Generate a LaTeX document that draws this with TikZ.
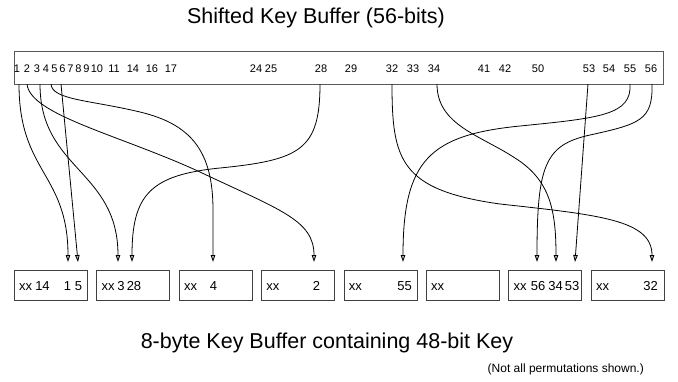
\documentclass[tikz,border=0pt]{standalone}
\usepackage{fontspec}
\setmainfont{Liberation Sans}
\usetikzlibrary{arrows.meta}
\begin{document}
\begin{tikzpicture}[x=1pt,y=-1pt,
  bitnum/.style={font=\fontsize{11}{12}\selectfont, inner sep=0pt, anchor=base},
  cell/.style={draw=black!75, line width=0.9pt, minimum width=73pt, minimum height=30pt,
               anchor=north west, inner sep=0pt},
  celltxt/.style={font=\fontsize{13}{14}\selectfont, inner sep=0pt, anchor=base},
  perm/.style={draw=black, line width=0.8pt,
               -{Triangle[length=7pt,width=4.5pt,fill=black!30]}},
  heading/.style={font=\fontsize{21.5}{24}\selectfont, inner sep=0pt},
]
\useasboundingbox (0,0) rectangle (678,381);

% 56-bit shifted key buffer
\node[heading] (title) at (316,18) {Shifted Key Buffer (56-bits)};
\node[draw=black!65, line width=1.4pt, anchor=north west, minimum width=649pt,
      minimum height=33pt, inner sep=0pt] (bar) at (14,51) {};
\foreach \n/\x in {1/17,2/27,3/37,4/46,5/54.5,6/62.5,7/70.5,8/78.5,9/86.5,10/97,11/114,14/133,16/152,17/171,
                   24/256,25/271,28/321,29/351,32/392,33/413,34/434,41/484,42/505,50/538,
                   53/589,54/609,55/630,56/651}
  \node[bitnum] (b\n) at (\x,72) {\n};

% 8-byte key buffer
\foreach \i in {1,...,8}{
  \node[cell] (k\i) at ({14+82.4*(\i-1)},270) {};
  \node[celltxt, anchor=base west] (x\i) at ({19+82.4*(\i-1)},290) {xx};
}
\node[celltxt] (c14) at (42.5,290) {14};
\node[celltxt] (c1)  at (67.5,290) {1};
\node[celltxt] (c5)  at (78.5,290) {5};
\node[celltxt] (c3)  at (121,290) {3};
\node[celltxt] (c28) at (134,290) {28};
\node[celltxt] (c4)  at (213.5,290) {4};
\node[celltxt] (c2)  at (316.5,290) {2};
\node[celltxt] (c55) at (404.5,290) {55};
\node[celltxt] (c56) at (538,290) {56};
\node[celltxt] (c34) at (555.5,290) {34};
\node[celltxt] (c53) at (572,290) {53};
\node[celltxt] (c32) at (650.5,290) {32};

% line ends at the bottom of the 56-bit buffer
\coordinate (s1)  at (19,84);
\coordinate (s2)  at (27,84);
\coordinate (s3)  at (40,84);
\coordinate (s4)  at (51,84);
\coordinate (s5)  at (61,84);
\coordinate (s28) at (320,84);
\coordinate (s32) at (392,84);
\coordinate (s34) at (437,84);
\coordinate (s53) at (588,84);
\coordinate (s55) at (630,84);
\coordinate (s56) at (652,84);

% arrow tips above the 8-byte buffer
\coordinate (e1)  at (68,262);
\coordinate (e5)  at (78,262);
\coordinate (e3)  at (118,262);
\coordinate (e28) at (132,262);
\coordinate (e4)  at (213,262);
\coordinate (e2)  at (314,262);
\coordinate (e55) at (403,262);
\coordinate (e56) at (537,262);
\coordinate (e34) at (556,262);
\coordinate (e53) at (575,262);
\coordinate (e32) at (652,262);

% permutation lines
\draw[perm] (s1) .. controls (19,173) and (68,173) .. (e1);
\draw[perm] (s5) -- (e5);
\draw[perm] (s3) .. controls (40,170) and (118,170) .. (e3);
\draw[perm] (s2) .. controls (30,115) and (120,135) .. (200,172)
                 .. controls (280,210) and (314,220) .. (e2);
\draw[perm] (s4) .. controls (52,100) and (90,100) .. (140,112)
                 .. controls (190,124) and (213,150) .. (213,210) -- (e4);
\draw[perm] (s28) .. controls (320,150) and (300,160) .. (220,168)
                  .. controls (150,175) and (132,195) .. (e28);
\draw[perm] (s32) .. controls (392,160) and (400,190) .. (500,204)
                  .. controls (600,215) and (652,220) .. (e32);
\draw[perm] (s34) .. controls (437,125) and (480,135) .. (515,158)
                  .. controls (550,180) and (556,210) .. (e34);
\draw[perm] (s53) -- (e53);
\draw[perm] (s55) .. controls (632,115) and (600,118) .. (520,126)
                  .. controls (430,135) and (403,160) .. (e55);
\draw[perm] (s56) .. controls (653,120) and (640,124) .. (590,135)
                  .. controls (545,145) and (537,165) .. (e56);

% captions
\node[heading] (caption) at (327,343) {8-byte Key Buffer containing 48-bit Key};
\node[font=\fontsize{12}{14}\selectfont, inner sep=0pt, anchor=east] (note) at (644,369)
  {(Not all permutations shown.)};
\end{tikzpicture}
\end{document}
